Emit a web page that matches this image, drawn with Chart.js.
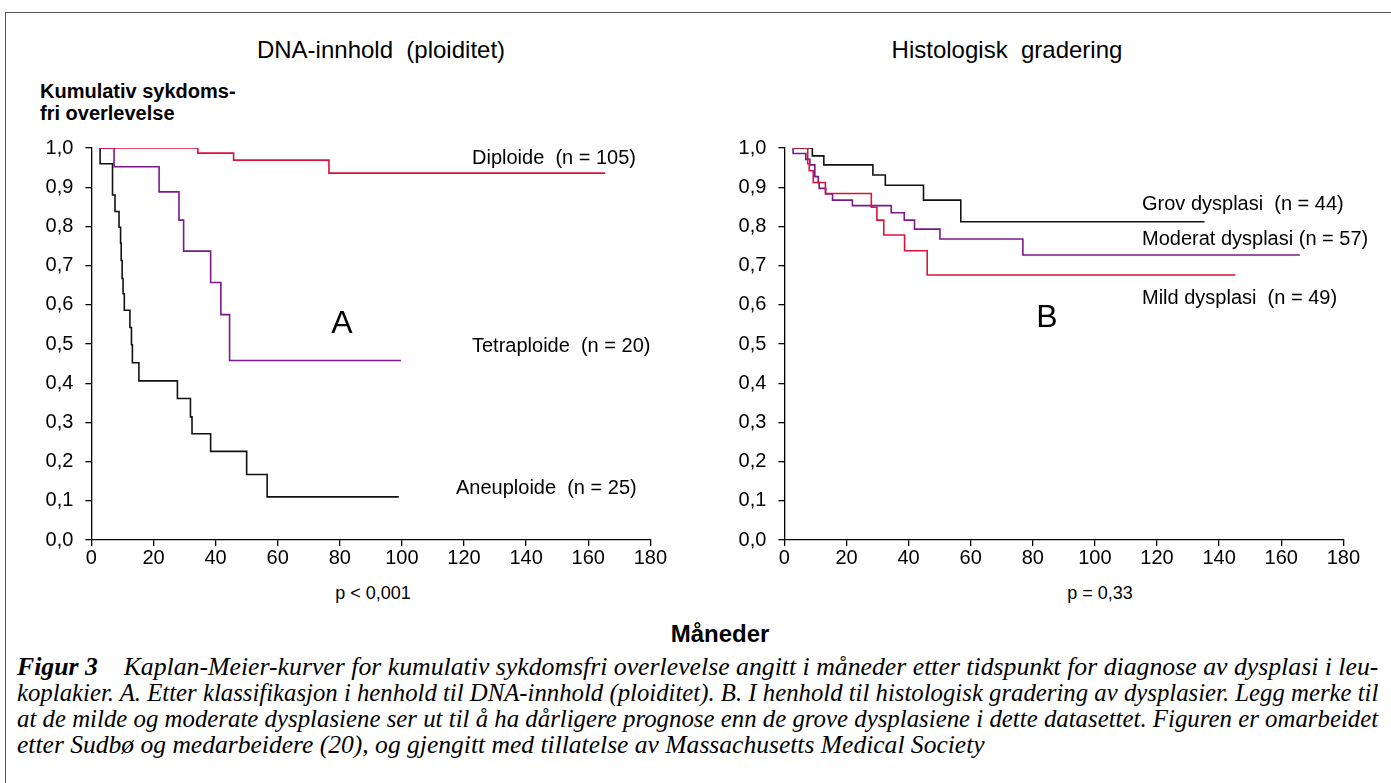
<!DOCTYPE html>
<html>
<head>
<meta charset="utf-8">
<script src="https://cdn.jsdelivr.net/npm/chart.js@4.4.1/dist/chart.umd.min.js"></script>
<style>
  body { margin: 0; background: #fff; width: 1391px; height: 783px; overflow: hidden; position: relative; font-family: "Liberation Sans", Arial, sans-serif; color: #000; }
  #frame { position: absolute; left: 5px; top: 12px; width: 1400px; height: 800px; border: 1px solid #555; }
  canvas { position: absolute; }
  .t { position: absolute; white-space: pre; line-height: 1; }
  .cap { position: absolute; left: 17px; font-family: "Liberation Serif", "Times New Roman", serif; font-style: italic; font-size: 26px; line-height: 26px; white-space: pre; transform-origin: 0 50%; }
</style>
</head>
<body>
<div id="frame"></div>
<canvas id="chartA" width="667" height="446" style="left:0px; top:124px;"></canvas>
<canvas id="chartB" width="667" height="446" style="left:693px; top:124px;"></canvas>

<div class="t" style="left:381px; top:38px; font-size:24px; transform:translateX(-50%);">DNA-innhold  (ploiditet)</div>
<div class="t" style="left:1007px; top:38px; font-size:24px; transform:translateX(-50%);">Histologisk  gradering</div>
<div class="t" style="left:40px; top:81px; font-size:20px; font-weight:bold;">Kumulativ sykdoms-</div>
<div class="t" style="left:40px; top:103px; font-size:20px; font-weight:bold;">fri overlevelse</div>

<div class="t" style="left:472px; top:147px; font-size:20px;">Diploide  (n = 105)</div>
<div class="t" style="left:472px; top:335px; font-size:20px;">Tetraploide  (n = 20)</div>
<div class="t" style="left:456px; top:477px; font-size:20px;">Aneuploide  (n = 25)</div>
<div class="t" style="left:342px; top:306px; font-size:32px; transform:translateX(-50%);">A</div>

<div class="t" style="left:1142px; top:193px; font-size:20px;">Grov dysplasi  (n = 44)</div>
<div class="t" style="left:1142px; top:228px; font-size:20px;">Moderat dysplasi (n = 57)</div>
<div class="t" style="left:1142px; top:287px; font-size:20px;">Mild dysplasi  (n = 49)</div>
<div class="t" style="left:1047px; top:300px; font-size:32px; transform:translateX(-50%);">B</div>

<div class="t" style="left:373px; top:584px; font-size:18px; transform:translateX(-50%);">p &lt; 0,001</div>
<div class="t" style="left:1100px; top:584px; font-size:18px; transform:translateX(-50%);">p = 0,33</div>
<div class="t" style="left:720px; top:622px; font-size:24px; font-weight:bold; transform:translateX(-50%);">Måneder</div>

<div class="cap fit" data-w="1361" style="top:654px;"><b>Figur 3</b>    Kaplan-Meier-kurver for kumulativ sykdomsfri overlevelse angitt i måneder etter tidspunkt for diagnose av dysplasi i leu-</div>
<div class="cap fit" data-w="1361" style="top:680px;">koplakier. A. Etter klassifikasjon i henhold til DNA-innhold (ploiditet). B. I henhold til histologisk gradering av dysplasier. Legg merke til</div>
<div class="cap fit" data-w="1361" style="top:706px;">at de milde og moderate dysplasiene ser ut til å ha dårligere prognose enn de grove dysplasiene i dette datasettet. Figuren er omarbeidet</div>
<div class="cap fit" data-w="968" style="top:732px;">etter Sudbø og medarbeidere (20), og gjengitt med tillatelse av Massachusetts Medical Society</div>

<script>
// Panel A: DNA-innhold (ploiditet)
const diploidMonths = [2.8, 34.3, 45.8, 76.5, 165.4];
const diploidSurv = [1.0, 0.987, 0.969, 0.936, 0.936];

const tetraMonths = [2.8, 7.3, 21.8, 28.2, 29.7, 38.4, 41.7, 44.5, 99.7];
const tetraSurv = [1.0, 0.952, 0.888, 0.816, 0.737, 0.657, 0.575, 0.458, 0.458];

const aneuMonths = [2.8, 2.8, 6.8, 7.6, 8.9, 9.4, 9.6, 9.9, 10.2, 10.6, 12.4, 12.9, 13.2, 15.3, 27.7, 31.9, 32.4, 38.4, 50.0, 56.6, 99.0];
const aneuSurv = [1.0, 0.96, 0.88, 0.838, 0.798, 0.757, 0.713, 0.667, 0.628, 0.586, 0.542, 0.498, 0.452, 0.406, 0.361, 0.314, 0.271, 0.226, 0.167, 0.110, 0.110];

// Panel B: Histologisk gradering
const grovMonths = [2.8, 9.0, 12.7, 28.5, 32.5, 44.8, 56.8, 135.3];
const grovSurv = [1.0, 0.980, 0.957, 0.931, 0.905, 0.867, 0.812, 0.812];

const moderatMonths = [2.8, 2.8, 6.9, 8.2, 9.8, 10.9, 11.2, 13.3, 15.5, 21.9, 34.4, 38.6, 41.9, 50.1, 76.8, 166.0];
const moderatSurv = [1.0, 0.986, 0.971, 0.957, 0.927, 0.912, 0.897, 0.883, 0.867, 0.853, 0.835, 0.816, 0.793, 0.768, 0.727, 0.727];

const mildMonths = [2.8, 7.5, 8.0, 9.3, 13.2, 28.0, 29.8, 32.0, 38.7, 46.0, 145.2];
const mildSurv = [1.0, 0.96, 0.942, 0.912, 0.884, 0.849, 0.816, 0.778, 0.738, 0.676, 0.676];

const RED = 'rgb(222, 16, 58)';
const PURPLE = 'rgb(122, 24, 140)';
const BLACK = '#111';

function toPoints(xs, ys) {
    return xs.map((x, i) => ({ x: x, y: ys[i] }));
}

function kmSet(xs, ys, color) {
    return {
        data: toPoints(xs, ys),
        borderColor: color,
        borderWidth: 1.6,
        stepped: true,
        pointRadius: 0,
        fill: false
    };
}

function makeChart(id, datasets) {
    const ctx = document.getElementById(id).getContext('2d');
    return new Chart(ctx, {
        type: 'line',
        data: { datasets: datasets },
        options: {
            responsive: false,
            animation: false,
            // y tick padding (12) + half label height is added on top
            layout: { padding: { top: 24, right: 15, left: 0, bottom: 0 } },
            plugins: { legend: { display: false }, tooltip: { enabled: false } },
            scales: {
                x: {
                    type: 'linear',
                    min: 0,
                    max: 180,
                    afterFit: function (scale) { scale.height = 30; },
                    ticks: { stepSize: 20, color: '#000', padding: 0, font: { family: 'Liberation Sans', size: 20 } },
                    grid: { drawOnChartArea: false, drawTicks: true, tickLength: 6, color: '#000', lineWidth: 1.3 },
                    border: { color: '#000', width: 1.3 }
                },
                y: {
                    min: 0,
                    max: 1,
                    afterFit: function (scale) { scale.width = 91.4; },
                    ticks: {
                        stepSize: 0.1,
                        color: '#000',
                        padding: 12,
                        font: { family: 'Liberation Sans', size: 20 },
                        callback: function (v) { return v.toFixed(1).replace('.', ','); }
                    },
                    grid: { drawOnChartArea: false, drawTicks: true, tickLength: 6, color: '#000', lineWidth: 1.3 },
                    border: { color: '#000', width: 1.3 }
                }
            }
        }
    });
}

makeChart('chartA', [
    kmSet(diploidMonths, diploidSurv, RED),
    kmSet(tetraMonths, tetraSurv, PURPLE),
    kmSet(aneuMonths, aneuSurv, BLACK)
]);

makeChart('chartB', [
    kmSet(mildMonths, mildSurv, RED),
    kmSet(moderatMonths, moderatSurv, PURPLE),
    kmSet(grovMonths, grovSurv, BLACK)
]);

// squeeze caption lines to the widths they have in the original
document.querySelectorAll('.cap.fit').forEach(function (el) {
    let s = parseFloat(el.dataset.w) / el.offsetWidth;
    el.style.transform = 'scaleX(' + s + ')';
});
</script>
</body>
</html>
